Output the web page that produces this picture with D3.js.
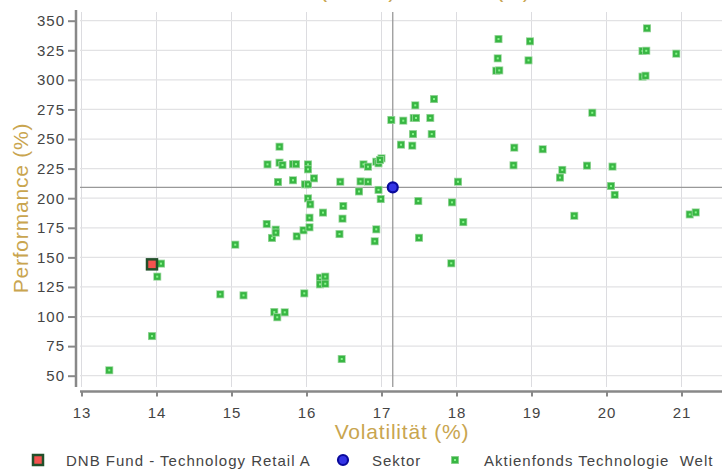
<!DOCTYPE html>
<html>
<head>
<meta charset="utf-8">
<script src="https://cdn.jsdelivr.net/npm/d3@7"></script>
<style>
  body { margin: 0; background: #fff; }
  text { font-family: "Liberation Sans", Arial, sans-serif; }
</style>
</head>
<body>
<svg id="chart-svg" width="722" height="471"></svg>
<script>
// fund / sector
const fundName = 'DNB Fund - Technology Retail A';
const fundVol = [13.94];
const fundPerf = [144.1];
const sectorName = 'Sektor';
const sectorVol = [17.15];
const sectorPerf = [209.2];

// peer group
const peerName = 'Aktienfonds Technologie  Welt';
const peerVol = [13.37, 13.94, 14.01, 14.06, 14.85, 15.05, 15.16, 15.47, 15.48, 15.54,
  15.59, 15.59, 15.57, 15.61, 15.71, 15.62, 15.64, 15.64, 15.68, 15.82,
  15.86, 15.82, 15.87, 15.96, 15.97, 15.98, 16.02, 16.02, 16.02, 16.02,
  16.05, 16.04, 16.04, 16.10, 16.18, 16.25, 16.18, 16.25, 16.22, 16.44,
  16.45, 16.47, 16.48, 16.49, 16.70, 16.72, 16.76, 16.82, 16.82, 16.91,
  16.93, 16.93, 16.96, 16.96, 16.99, 17.00, 16.98, 17.13, 17.26, 17.29,
  17.41, 17.42, 17.43, 17.46, 17.45, 17.49, 17.50, 17.65, 17.67, 17.70,
  17.93, 17.94, 18.02, 18.09, 18.53, 18.57, 18.55, 18.56, 18.76, 18.77,
  18.96, 18.98, 19.15, 19.38, 19.41, 19.57, 19.74, 19.81, 20.06, 20.08,
  20.11, 20.48, 20.52, 20.48, 20.53, 20.54, 20.93, 21.11, 21.19];
const peerPerf = [54.6, 83.5, 133.7, 144.7, 118.8, 160.7, 117.9, 178.2, 228.6, 166.4,
  173.4, 170.9, 103.8, 99.4, 103.6, 213.7, 230.0, 243.5, 228.0, 228.8,
  228.8, 215.2, 167.8, 172.9, 119.6, 211.7, 211.7, 228.6, 224.4, 199.9,
  194.8, 183.5, 175.4, 216.8, 132.8, 133.7, 127.2, 127.7, 187.8, 169.7,
  213.9, 64.1, 182.7, 193.4, 205.7, 214.2, 228.6, 226.6, 213.9, 163.6,
  173.7, 230.8, 229.5, 207.0, 199.3, 233.7, 232.3, 266.1, 245.2, 265.5,
  244.4, 254.2, 267.8, 267.8, 278.5, 197.6, 166.5, 267.8, 254.2, 283.8,
  145.0, 196.5, 213.9, 179.8, 307.7, 308.0, 318.2, 334.5, 227.8, 242.7,
  316.5, 332.6, 241.4, 217.4, 223.9, 185.1, 227.5, 272.2, 210.3, 226.7,
  202.8, 302.7, 303.5, 324.4, 324.6, 343.6, 322.1, 186.3, 188.0];

const xTicks = [13, 14, 15, 16, 17, 18, 19, 20, 21];
const yTicks = [50, 75, 100, 125, 150, 175, 200, 225, 250, 275, 300, 325, 350];

const gold = '#c9a54f';
const labelColor = '#444';

let svg = d3.select('#chart-svg');

// plot area
let plotLeft = 80, plotRight = 722, plotTop = 12, plotBottom = 387;

let xScale = d3.scaleLinear().domain([13, 21]).range([81.5, 681.5]);
let yScale = d3.scaleLinear().domain([50, 350]).range([375.7, 20.7]);

// title (mostly cut off at the top, as in the original)
svg.append('text')
    .attr('x', 392).attr('y', -3.5)
    .attr('text-anchor', 'middle')
    .attr('fill', gold)
    .style('font-size', '22px')
    .text('Risiko (1 Jahr) / Rendite (%)');

// grid
let grid = svg.append('g');
grid.selectAll('.vgrid').data(xTicks).enter().append('line')
    .attr('x1', d => xScale(d)).attr('x2', d => xScale(d))
    .attr('y1', plotTop).attr('y2', plotBottom)
    .attr('stroke', '#dcdce0').attr('stroke-width', 1);
grid.selectAll('.hgrid').data(yTicks).enter().append('line')
    .attr('x1', plotLeft).attr('x2', plotRight)
    .attr('y1', d => yScale(d)).attr('y2', d => yScale(d))
    .attr('stroke', '#e2e2e4').attr('stroke-width', 1.3);

// axes
const yAxis = d3.axisLeft(yScale).tickValues(yTicks).tickSize(8).tickPadding(3).tickSizeOuter(0);
let yAxisGroup = svg.append('g').attr('transform', 'translate(76,0)').call(yAxis);
yAxisGroup.select('.domain').attr('d', 'M0,' + 10 + 'V' + plotBottom);

const xAxis = d3.axisBottom(xScale).tickValues(xTicks).tickSize(5).tickPadding(8).tickSizeOuter(0);
let xAxisGroup = svg.append('g').attr('transform', 'translate(0,391.5)').call(xAxis);
xAxisGroup.select('.domain').attr('d', 'M' + plotLeft + ',0H' + plotRight);

[yAxisGroup, xAxisGroup].forEach(g => {
    g.select('.domain').attr('stroke', '#888').attr('stroke-width', 2.5);
    g.selectAll('.tick line').attr('stroke', '#888').attr('stroke-width', 2);
    g.selectAll('.tick text')
        .attr('fill', labelColor)
        .style('font-size', '15px')
        .style('letter-spacing', '1px')
        .style('font-family', '"Liberation Sans", Arial, sans-serif');
});
xAxisGroup.selectAll('.tick text').attr('dy', '0.9em');

// axis titles
svg.append('text')
    .attr('x', 402).attr('y', 439)
    .attr('text-anchor', 'middle')
    .attr('fill', gold)
    .style('font-size', '21px')
    .style('letter-spacing', '0.8px')
    .text('Volatilität (%)');

svg.append('text')
    .attr('transform', 'translate(28,208) rotate(-90)')
    .attr('text-anchor', 'middle')
    .attr('fill', gold)
    .style('font-size', '21px')
    .style('letter-spacing', '0.8px')
    .text('Performance (%)');

// reference lines at sector position
svg.append('line')
    .attr('x1', xScale(sectorVol[0])).attr('x2', xScale(sectorVol[0]))
    .attr('y1', plotTop).attr('y2', plotBottom)
    .attr('stroke', '#999').attr('stroke-width', 1.3);
svg.append('line')
    .attr('x1', plotLeft).attr('x2', plotRight)
    .attr('y1', yScale(sectorPerf[0])).attr('y2', yScale(sectorPerf[0]))
    .attr('stroke', '#999').attr('stroke-width', 1.3);

// markers
function greenSquare(g) {
    g.append('rect').attr('x', -4).attr('y', -4).attr('width', 8).attr('height', 8)
        .attr('fill', '#9bd79e');
    g.append('rect').attr('x', -3.2).attr('y', -3.2).attr('width', 6.4).attr('height', 6.4)
        .attr('fill', '#38b643');
    g.append('rect').attr('x', -1).attr('y', -1).attr('width', 2).attr('height', 2)
        .attr('fill', '#86f58a');
}
function redSquare(g) {
    g.append('rect').attr('x', -5).attr('y', -5).attr('width', 10).attr('height', 10)
        .attr('fill', '#f4524f').attr('stroke', '#22502a').attr('stroke-width', 2.5);
}
function blueCircle(g) {
    g.append('circle').attr('r', 5)
        .attr('fill', '#3434e6').attr('stroke', '#0a0a9c').attr('stroke-width', 2.2);
}

let peers = peerVol.map((v, i) => ({ vol: v, perf: peerPerf[i] }));
let peerGroup = svg.append('g');
peerGroup.selectAll('g').data(peers).enter().append('g')
    .attr('transform', d => 'translate(' + xScale(d.vol) + ',' + yScale(d.perf) + ')')
    .each(function () { greenSquare(d3.select(this)); });

svg.append('g')
    .attr('transform', 'translate(' + xScale(sectorVol[0]) + ',' + yScale(sectorPerf[0]) + ')')
    .call(blueCircle);

svg.append('g')
    .attr('transform', 'translate(' + xScale(fundVol[0]) + ',' + yScale(fundPerf[0]) + ')')
    .call(redSquare);

// legend
let legend = svg.append('g').attr('transform', 'translate(0,460)');
let items = [
    { x: 38, label: fundName, draw: redSquare, tx: 66 },
    { x: 343, label: sectorName, draw: blueCircle, tx: 372 },
    { x: 455, label: peerName, draw: greenSquare, tx: 484 }
];
items.forEach(it => {
    legend.append('g').attr('transform', 'translate(' + it.x + ',0)').call(it.draw);
    legend.append('text')
        .attr('x', it.tx).attr('y', 5.5)
        .attr('fill', labelColor)
        .style('font-size', '15px')
        .style('letter-spacing', '1px')
        .style('white-space', 'pre')
        .text(it.label);
});
</script>
</body>
</html>
